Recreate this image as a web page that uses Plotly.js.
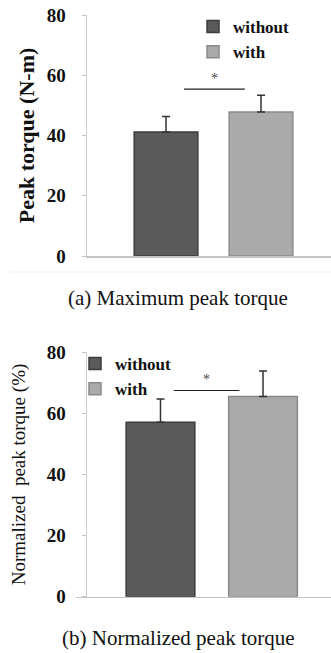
<!DOCTYPE html>
<html>
<head>
<meta charset="utf-8">
<script src="https://cdn.plot.ly/plotly-3.0.1.min.js"></script>
<style>
  html, body { margin: 0; padding: 0; background: #fff; }
  #chart { width: 331px; height: 653px; }
</style>
</head>
<body>
<div id="chart"></div>
<script>
// Groups compared in both panels
const groups = ['without', 'with'];

// (a) Maximum peak torque, N-m (mean and SD)
const peakTorque = [41.2, 47.8];
const peakTorqueSD = [5.1, 5.6];

// (b) Normalized peak torque, % (mean and SD)
const normTorque = [57.1, 65.5];
const normTorqueSD = [7.6, 8.4];

// Significance bracket heights and horizontal spans (category units)
const sigLevels = [55.4, 67.5];
const sigSpanA = [0.19, 0.83];
const sigSpanB = [0.13, 0.77];

const yTicks = [0, 20, 40, 60, 80];
const captions = ['(a) Maximum peak torque', '(b) Normalized peak torque'];
const yTitles = ['Peak torque (N-m)', 'Normalized  peak torque (%)'];

const SERIF = '"Liberation Serif", "Times New Roman", Times, serif';
const W = 331, H = 653;

const fills = ['#5a5a5a', '#aaaaaa'];
const edges = ['#3c3c3c', '#8a8a8a'];

function panelTraces(values, sds, xa, ya, legendId) {
  return groups.map((g, i) => ({
    type: 'bar',
    name: g,
    x: [g],
    y: [values[i]],
    width: 0.67,
    xaxis: xa,
    yaxis: ya,
    legend: legendId,
    marker: { color: fills[i], line: { color: edges[i], width: 1.5 } },
    error_y: {
      type: 'data',
      symmetric: false,
      array: [sds[i]],
      arrayminus: [0],
      color: '#333333',
      thickness: 1.5,
      width: 4
    },
    hoverinfo: 'skip'
  }));
}

const data = [
  ...panelTraces(peakTorque, peakTorqueSD, 'x', 'y', 'legend'),
  ...panelTraces(normTorque, normTorqueSD, 'x2', 'y2', 'legend2')
];

const tickFont = { family: SERIF, size: 19, color: '#111', weight: 'bold' };

function yAxis(domain, title, titleFont, standoff) {
  return {
    domain: domain,
    range: [0, 80],
    tickvals: yTicks,
    ticks: 'outside',
    ticklen: 4,
    tickcolor: '#c4c4c4',
    tickfont: tickFont,
    ticklabelstandoff: 12,
    showline: true,
    linecolor: '#cccccc',
    linewidth: 1.5,
    showgrid: false,
    zeroline: false,
    fixedrange: true,
    title: { text: title, font: titleFont, standoff: standoff }
  };
}

function xAxis(domain, range, anchor) {
  return {
    domain: domain,
    range: range,
    anchor: anchor,
    type: 'category',
    categoryorder: 'array',
    categoryarray: groups,
    showticklabels: false,
    ticks: '',
    showline: true,
    linecolor: '#c4c4c4',
    linewidth: 1.5,
    showgrid: false,
    zeroline: false,
    fixedrange: true
  };
}

const legendFont = { family: SERIF, size: 17, color: '#111', weight: 'bold' };

const layout = {
  width: W,
  height: H,
  margin: { l: 0, r: 0, t: 0, b: 0 },
  paper_bgcolor: '#ffffff',
  plot_bgcolor: '#ffffff',
  barmode: 'overlay',
  showlegend: true,
  xaxis: xAxis([87 / W, 1], [-0.832, 1.737], 'y'),
  yaxis: yAxis([1 - 256 / H, 1 - 15 / H], yTitles[0],
    { family: SERIF, size: 22, color: '#111', weight: 'bold' }, 6),
  xaxis2: xAxis([76 / W, 1], [-0.824, 1.663], 'y2'),
  yaxis2: yAxis([1 - 596.7 / H, 1 - 352.3 / H], yTitles[1],
    { family: SERIF, size: 19, color: '#111' }, 16),
  legend: {
    x: 193 / W, xanchor: 'left',
    y: 1 - 9 / H, yanchor: 'top',
    bgcolor: 'rgba(0,0,0,0)',
    font: legendFont,
    tracegroupgap: 0
  },
  legend2: {
    x: 75 / W, xanchor: 'left',
    y: 1 - 346 / H, yanchor: 'top',
    bgcolor: 'rgba(0,0,0,0)',
    font: legendFont,
    tracegroupgap: 0
  },
  shapes: [
    { type: 'line', xref: 'x', yref: 'y', x0: sigSpanA[0], x1: sigSpanA[1],
      y0: sigLevels[0], y1: sigLevels[0], line: { color: '#222', width: 1.2 } },
    { type: 'line', xref: 'x2', yref: 'y2', x0: sigSpanB[0], x1: sigSpanB[1],
      y0: sigLevels[1], y1: sigLevels[1], line: { color: '#222', width: 1.2 } },
    // faint frame edge under the first panel
    { type: 'line', xref: 'paper', yref: 'paper', x0: 10 / W, x1: 1,
      y0: 1 - 272 / H, y1: 1 - 272 / H, line: { color: '#eeeeee', width: 1 } }
  ],
  annotations: [
    { xref: 'x', yref: 'y', x: (sigSpanA[0] + sigSpanA[1]) / 2, y: sigLevels[0],
      text: '*', showarrow: false, yanchor: 'bottom', yshift: 1,
      font: { family: SERIF, size: 14, color: '#444' } },
    { xref: 'x2', yref: 'y2', x: (sigSpanB[0] + sigSpanB[1]) / 2, y: sigLevels[1],
      text: '*', showarrow: false, yanchor: 'bottom', yshift: 1,
      font: { family: SERIF, size: 14, color: '#444' } },
    { xref: 'paper', yref: 'paper', x: 178 / W, y: 1 - 298 / H,
      xanchor: 'center', yanchor: 'middle', text: captions[0], showarrow: false,
      font: { family: SERIF, size: 21, color: '#111' } },
    { xref: 'paper', yref: 'paper', x: 178 / W, y: 1 - 638 / H,
      xanchor: 'center', yanchor: 'middle', text: captions[1], showarrow: false,
      font: { family: SERIF, size: 21, color: '#111' } }
  ]
};

Plotly.newPlot('chart', data, layout, { displayModeBar: false, staticPlot: true });
</script>
</body>
</html>
